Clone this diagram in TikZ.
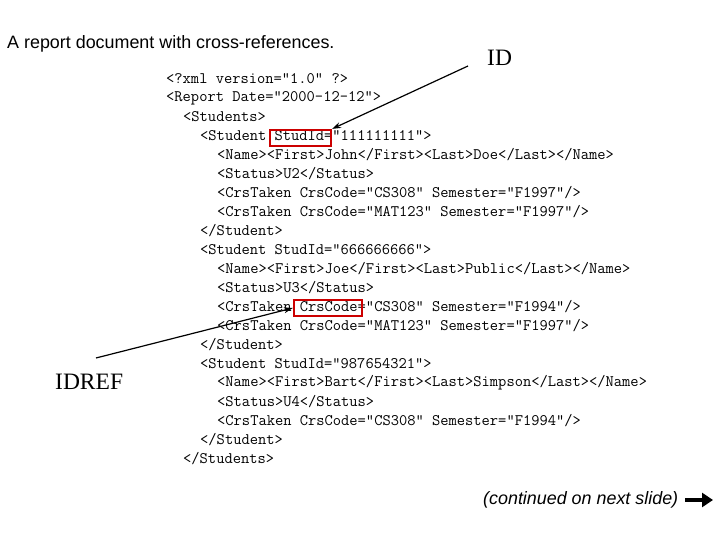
\documentclass[tikz,border=0pt]{standalone}
\usepackage{fontspec}
\setsansfont{Liberation Sans}
\setmainfont{Liberation Serif}
\usetikzlibrary{arrows.meta}
\begin{document}
\begin{tikzpicture}[x=1pt,y=1pt,
  code/.style={anchor=west,inner sep=0pt,font=\fontspec{Latin Modern Mono}\fontsize{16.05}{19}\selectfont},
  hl/.style={draw=red!80!black,line width=2.2pt},
  ptr/.style={line width=1.2pt,-{Stealth[length=9pt,width=6pt]}}]
\useasboundingbox (0,0) rectangle (720,540);
\fill[white] (0,0) rectangle (720,540);
\node[anchor=west,inner sep=0pt,font=\sffamily\fontsize{17.9}{21}\selectfont] (title) at (7,496) {A report document with cross-references.};
\node[anchor=west,inner sep=0pt,font=\fontsize{23.5}{28}\selectfont] (id) at (487,482) {ID};
\node[anchor=west,inner sep=0pt,font=\fontsize{23.5}{28}\selectfont] (idref) at (55,158) {IDREF};
\foreach \t/\i [count=\n from 0] in {
 {<?xml version="1.0" ?>}/0,
 {<Report Date="2000-12-12">}/0,
 {<Students>}/1,
 {<Student StudId="111111111">}/2,
 {<Name><First>John</First><Last>Doe</Last></Name>}/3,
 {<Status>U2</Status>}/3,
 {<CrsTaken CrsCode="CS308" Semester="F1997"/>}/3,
 {<CrsTaken CrsCode="MAT123" Semester="F1997"/>}/3,
 {</Student>}/2,
 {<Student StudId="666666666">}/2,
 {<Name><First>Joe</First><Last>Public</Last></Name>}/3,
 {<Status>U3</Status>}/3,
 {<CrsTaken CrsCode="CS308" Semester="F1994"/>}/3,
 {<CrsTaken CrsCode="MAT123" Semester="F1997"/>}/3,
 {</Student>}/2,
 {<Student StudId="987654321">}/2,
 {<Name><First>Bart</First><Last>Simpson</Last></Name>}/3,
 {<Status>U4</Status>}/3,
 {<CrsTaken CrsCode="CS308" Semester="F1994"/>}/3,
 {</Student>}/2,
 {</Students>}/1}
 \node[code] (l\n) at (166+17*\i, 461-19*\n) {\detokenize\expandafter{\t}};
\node[hl,inner sep=0pt,minimum width=61pt,minimum height=16pt] (b1) at (300.5,402) {};
\node[hl,inner sep=0pt,minimum width=68pt,minimum height=16pt] (b2) at (328,232) {};
\coordinate (a1) at (468,474);
\coordinate (a2) at (96,182);
\draw[ptr] (a1) -- (b1.north east);
\draw[ptr] (a2) -- (b2.west);
\node[anchor=west,inner sep=0pt,font=\sffamily\itshape\fontsize{17.9}{21}\selectfont] (cont) at (483,40) {(continued on next slide)};
\draw[line width=4pt,-{Triangle[length=11pt,width=14pt]}] (685,40) -- (713,40);
\end{tikzpicture}
\end{document}
